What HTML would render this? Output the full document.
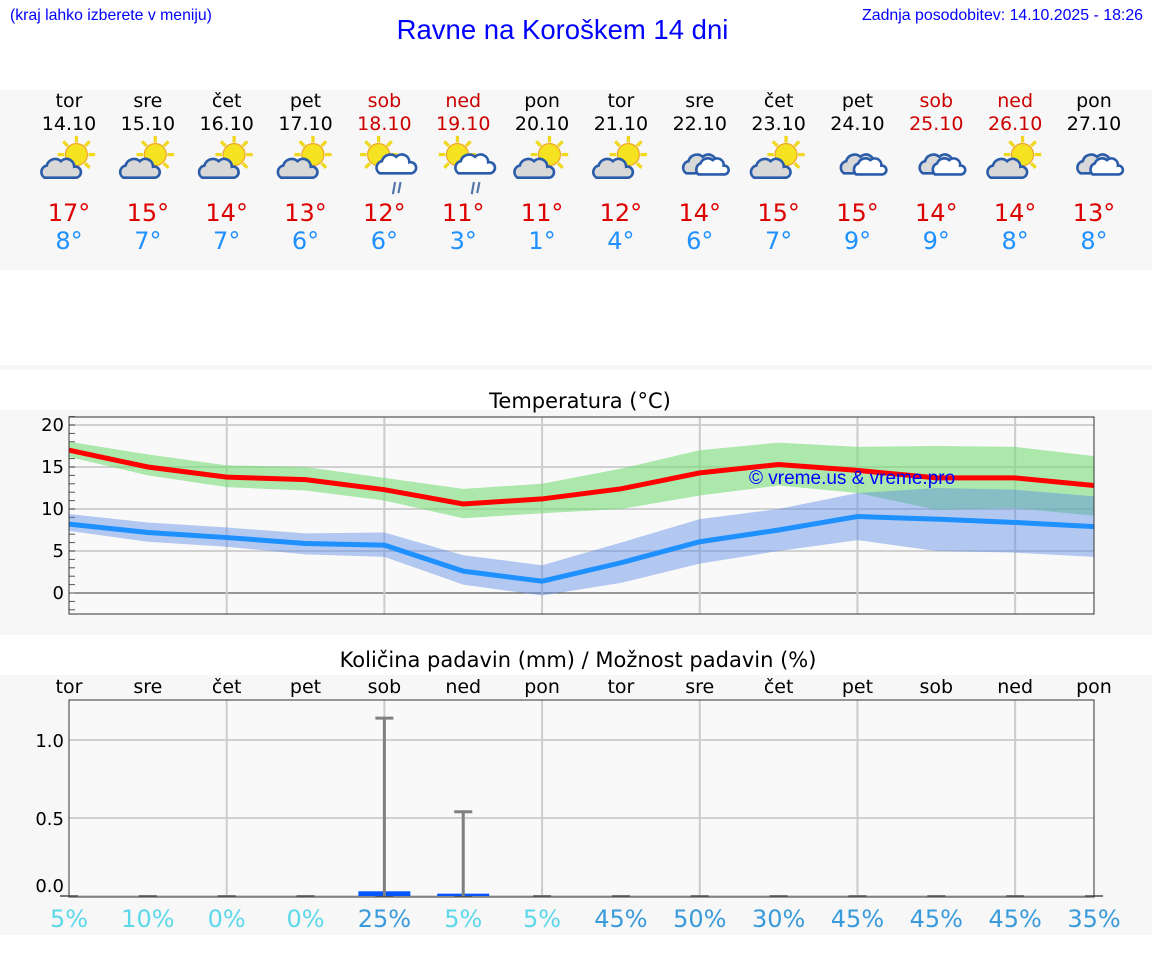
<!DOCTYPE html>
<html><head><meta charset="utf-8"><style>
body{margin:0;width:1152px;height:975px;background:#fff;font-family:"DejaVu Sans","Liberation Sans",sans-serif;position:relative;overflow:hidden}
.abs{position:absolute}
</style></head><body>
<div class="abs" style="left:10px;top:7px;font:15.8px 'Liberation Sans',sans-serif;color:#00f">(kraj lahko izberete v meniju)</div>
<div class="abs" style="left:0;width:1125px;top:14px;text-align:center;font:27.5px 'Liberation Sans',sans-serif;color:#00f">Ravne na Koroškem 14 dni</div>
<div class="abs" style="right:9px;top:7px;font:15.9px 'Liberation Sans',sans-serif;color:#00f">Zadnja posodobitev: 14.10.2025 - 18:26</div>
<svg class="abs" style="left:0;top:0" width="1152" height="975" id="svg">
<rect x="0" y="90" width="1152" height="180" fill="#f7f7f7"/>
<rect x="0" y="365" width="1152" height="5" fill="#f7f7f7"/>
<rect x="0" y="410" width="1152" height="225" fill="#f7f7f7"/>
<rect x="0" y="675" width="1152" height="260" fill="#f7f7f7"/>
<g id="g"></g>
</svg>
<script>
const days=["tor","sre","čet","pet","sob","ned","pon","tor","sre","čet","pet","sob","ned","pon"];
const dates=["14.10","15.10","16.10","17.10","18.10","19.10","20.10","21.10","22.10","23.10","24.10","25.10","26.10","27.10"];
const icons=["ps","ps","ps","ps","rain","rain","ps","ps","cl","ps","cl","cl","ps","cl"];
const tmaxLabel=[17,15,14,13,12,11,11,12,14,15,15,14,14,13];
const tminLabel=[8,7,7,6,6,3,1,4,6,7,9,9,8,8];
const tmax=[17.0,15.0,13.8,13.5,12.3,10.6,11.2,12.4,14.3,15.3,14.6,13.7,13.7,12.8];
const tmaxHi=[18,16.5,15.2,15,13.7,12.4,13,14.8,17,17.9,17.4,17.5,17.4,16.3];
const tmaxLo=[16.2,14,12.6,12.2,11,8.9,9.5,10,11.6,12.8,11.9,9.9,10.1,9.2];
const tmin=[8.2,7.2,6.6,5.9,5.7,2.6,1.4,3.6,6.1,7.5,9.1,8.8,8.4,7.9];
const tminHi=[9.4,8.4,7.8,7.1,7.2,4.5,3.3,6,8.8,10,11.9,12.5,12.3,11.5];
const tminLo=[7.4,6.1,5.5,4.6,4.3,1,-0.3,1.2,3.5,5,6.3,5,4.8,4.3];
const tempTicks=[0,5,10,15,20];
const precip=[0,0,0,0,0.03,0.015,0,0,0,0,0,0,0,0];
const precipMax=[0,0,0,0,1.14,0.54,0,0,0,0,0,0,0,0];
const chance=[5,10,0,0,25,5,5,45,50,30,45,45,45,35];
const precipTicks=[0,0.5,1.0];
const NS="http://www.w3.org/2000/svg",g=document.getElementById('g');
function el(t,a,p){const e=document.createElementNS(NS,t);for(const k in a)e.setAttribute(k,a[k]);(p||g).appendChild(e);return e}
const X=i=>69+i*(1094-69)/13;
const TY=v=>593-v*8.4;
const PY=v=>896-v*156;
const weekend=i=>days[i]=="sob"||days[i]=="ned";
days.forEach((d,i)=>{
 let t=el('text',{x:X(i),y:107,'text-anchor':'middle','font-size':19,fill:weekend(i)?'#c00':'#000'});t.textContent=d;
 
 t=el('text',{x:X(i),y:130,'text-anchor':'middle','font-size':19,fill:weekend(i)?'#c00':'#000'});t.textContent=dates[i];
 
 const ig=el('g',{transform:`translate(${X(i)+3},159) scale(1.1)`});
 
 const ic=icons[i];
 if(ic!="cl"){const sx=ic=="rain"?-8:4,sy=-4;
  for(let k=0;k<8;k++){const a=k*Math.PI/4;el('line',{x1:sx+Math.cos(a)*11,y1:sy+Math.sin(a)*11,x2:sx+Math.cos(a)*17,y2:sy+Math.sin(a)*17,stroke:'#f0d820','stroke-width':3},ig)}
  el('circle',{cx:sx,cy:sy,r:10,fill:'#f5e322',stroke:'#f0a020','stroke-width':1},ig);}
 const cx=ic=="ps"?-10:(ic=="rain"?8:0),cy=ic=="ps"?8:4,fc=ic=="rain"?'#fff':'#d8d8d8';
 const cp=`M${cx-15},${cy+9} a6,6 0 0 1 2,-11 a8,8 0 0 1 13,-4 a7,7 0 0 1 12,5 a5,5 0 0 1 2,10 z`;
 el('path',{d:cp,fill:fc,stroke:'#2a5caa','stroke-width':2.4},ig);
 if(ic=="cl")el('path',{d:`M${cx-4},${cy+10} a6,6 0 0 1 2,-10 a7,7 0 0 1 11,-3 a6,6 0 0 1 10,5 a4,4 0 0 1 1,8 z`,fill:'#fff',stroke:'#2a5caa','stroke-width':2.4},ig);
 if(ic=="rain"){el('line',{x1:cx-1,y1:cy+17,x2:cx-3,y2:cy+28,stroke:'#5577aa','stroke-width':2},ig);el('line',{x1:cx+4,y1:cy+17,x2:cx+2,y2:cy+27,stroke:'#5577aa','stroke-width':2},ig);}
 t=el('text',{x:X(i),y:221,'text-anchor':'middle','font-size':24,fill:'#d00'});t.textContent=tmaxLabel[i]+"°";
 
 t=el('text',{x:X(i),y:249,'text-anchor':'middle','font-size':24,fill:'#1e90ff'});t.textContent=tminLabel[i]+"°";
 
});
let t=el('text',{x:580,y:408,'text-anchor':'middle','font-size':21,fill:'#000'});t.textContent="Temperatura (°C)";

el('rect',{x:69,y:417,width:1025,height:197,fill:'#f9f9f9'});
tempTicks.forEach(v=>{el('line',{x1:69,x2:1094,y1:TY(v),y2:TY(v),stroke:v==0?'#333':'#d0d0d0','stroke-width':v==0?1:2});
 const l=el('text',{x:64,y:TY(v)+6,'text-anchor':'end','font-size':18,fill:'#000'});l.textContent=v;
 });
for(let v=-2;v<=21;v++)el('line',{x1:69,x2:75,y1:TY(v),y2:TY(v),stroke:'#555'});
for(let i=2;i<13;i+=2)el('line',{x1:X(i),x2:X(i),y1:417,y2:614,stroke:'#ccc','stroke-width':2});
function band(hi,lo,c,n){const p=hi.map((v,i)=>X(i)+','+TY(v)).concat(lo.map((v,i)=>X(i)+','+TY(v)).reverse());
 const e=el('polygon',{points:p.join(' '),fill:c});}
band(tmaxHi,tmaxLo,'rgba(120,220,120,0.6)','max-temp-range');
band(tminHi,tminLo,'rgba(90,140,230,0.45)','min-temp-range');
function line(a,c,n){const e=el('polyline',{points:a.map((v,i)=>X(i)+','+TY(v)).join(' '),fill:'none',stroke:c,'stroke-width':5});}
line(tmax,'#f00','max-temp-line');line(tmin,'#1e90ff','min-temp-line');
t=el('text',{x:749,y:484,'font-size':19,fill:'#00f','font-family':'Liberation Sans'});t.textContent="© vreme.us & vreme.pro";

el('rect',{x:69,y:417,width:1025,height:197,fill:'none',stroke:'#333'});
t=el('text',{x:578,y:667,'text-anchor':'middle','font-size':21,fill:'#000'});t.textContent="Količina padavin (mm) / Možnost padavin (%)";

el('rect',{x:69,y:700,width:1025,height:197,fill:'#f9f9f9'});
precipTicks.forEach(v=>{el('line',{x1:69,x2:1094,y1:PY(v),y2:PY(v),stroke:'#d0d0d0','stroke-width':2});
 const l=el('text',{x:64,y:PY(v)+(v==0?-4:7),'text-anchor':'end','font-size':18,fill:'#000'});l.textContent=v.toFixed(1);
 });
for(let i=2;i<13;i+=2)el('line',{x1:X(i),x2:X(i),y1:700,y2:897,stroke:'#ccc','stroke-width':2});
days.forEach((d,i)=>{
 let l=el('text',{x:X(i),y:693,'text-anchor':'middle','font-size':19,fill:'#000'});l.textContent=d;
 
 el('line',{x1:X(i)-9,x2:X(i)+9,y1:896,y2:896,stroke:'#777','stroke-width':2});
 if(precip[i]>0){const h=Math.max(2,896-PY(precip[i]));const b=el('rect',{x:X(i)-26,y:896-h,width:52,height:h,fill:'#0055ff'});
  }
 if(precipMax[i]>0){const e=el('g',{});
  el('line',{x1:X(i),x2:X(i),y1:896,y2:PY(precipMax[i]),stroke:'#808080','stroke-width':3},e);
  el('line',{x1:X(i)-9,x2:X(i)+9,y1:PY(precipMax[i]),y2:PY(precipMax[i]),stroke:'#808080','stroke-width':3},e);}
 l=el('text',{x:X(i),y:927,'text-anchor':'middle','font-size':24,fill:chance[i]>=25?'#3a9bdc':'#5dd8ea'});l.textContent=chance[i]+"%";
 
});
el('rect',{x:69,y:700,width:1025,height:197,fill:'none',stroke:'#333'});
</script>
</body></html>
